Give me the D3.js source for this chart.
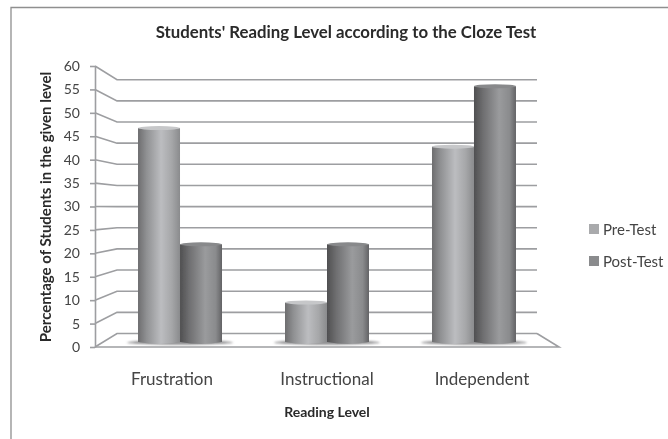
<!DOCTYPE html>
<html>
<head>
<meta charset="utf-8">
<script src="https://cdn.jsdelivr.net/npm/d3@7"></script>
<style>
  html, body { margin: 0; padding: 0; background: #fff; }
  svg { display: block; }
  text { font-family: Lato, "Open Sans", sans-serif; fill: #444; }
</style>
</head>
<body>
<script>
const categories = ['Frustration', 'Instructional', 'Independent'];
const seriesNames = ['Pre-Test', 'Post-Test'];
const preTest = [46, 8.5, 42];
const postTest = [21, 21, 55];
const yTicks = d3.range(0, 61, 5);

const width = 668;
const height = 439;

const svg = d3.select('body').append('svg')
  .attr('width', width)
  .attr('height', height);

const defs = svg.append('defs');
defs.append('filter').attr('id', 'soft')
  .append('feGaussianBlur').attr('stdDeviation', 0.5);
defs.append('filter').attr('id', 'shadow')
  .append('feGaussianBlur').attr('stdDeviation', 1.2);

// cylinder shading
function cylinder(id, stops) {
  const g = defs.append('linearGradient').attr('id', id);
  stops.forEach(s => g.append('stop').attr('offset', s[0]).attr('stop-color', s[1]));
}
cylinder('pre', [[0, '#6d6d6f'], [0.2, '#8f9092'], [0.55, '#bcbdc0'], [0.8, '#a6a7a9'], [1, '#8a8b8d']]);
cylinder('post', [[0, '#4f4f51'], [0.2, '#6c6c6e'], [0.6, '#9a9b9d'], [0.85, '#8a8b8d'], [1, '#636365']]);

const chart = svg.append('g').attr('filter', 'url(#soft)');

// frame of the pasted chart
chart.append('path')
  .attr('d', d3.line()([[11, height + 5], [11, 7.5], [width + 5, 7.5]]))
  .attr('fill', 'none')
  .attr('stroke', '#8f8f8f')
  .attr('stroke-width', 1.3);

// front axis and back wall share the same domain with different ranges
const yFront = d3.scaleLinear().domain([0, 60]).range([347, 66]);
const yBack = d3.scaleLinear().domain([0, 60]).range([333.5, 79.7]);
const yBar = d3.scaleLinear().domain([0, 60]).range([342, 63]);

const frontX = 95;
const backX = 117;
const backRight = 537;
const frontRight = 559;
const gridColor = '#9d9ea1';

const grid = chart.append('g')
  .attr('fill', 'none')
  .attr('stroke', gridColor)
  .attr('stroke-width', 1.6);

grid.selectAll('path.grid')
  .data(yTicks)
  .join('path')
  .attr('class', 'grid')
  .attr('d', d => d3.line()([[frontX, yFront(d)], [backX, yBack(d)], [backRight, yBack(d)]]));

// floor
grid.append('path')
  .attr('d', d3.line()([[frontX, yFront(0)], [frontRight, yFront(0)], [backRight, yBack(0)]]));

// left axis, drawn with d3.axisLeft
const axis = chart.append('g')
  .attr('transform', `translate(${frontX},0)`)
  .call(d3.axisLeft(yFront).tickValues(yTicks).tickSize(5).tickSizeOuter(0).tickPadding(10));
axis.selectAll('.domain, line').attr('stroke', gridColor).attr('stroke-width', 1.6);
axis.selectAll('text')
  .style('font-family', 'Lato, sans-serif')
  .style('font-size', '14px')
  .attr('fill', '#4a4a4a');

// bars
const x0 = d3.scaleBand().domain(categories).range([backX, backRight]).paddingInner(0.4286).paddingOuter(0.143);
const x1 = d3.scaleBand().domain(seriesNames).range([0, x0.bandwidth()]);

const rows = categories.map((c, i) => ({ category: c, values: [preTest[i], postTest[i]] }));

const groups = chart.selectAll('g.cat')
  .data(rows)
  .join('g')
  .attr('class', 'cat')
  .attr('transform', d => `translate(${x0(d.category)},0)`);

// floor shadow under each pair
groups.append('ellipse')
  .attr('cx', x0.bandwidth() / 2)
  .attr('cy', yBar(0) + 0.5)
  .attr('rx', x0.bandwidth() / 2 + 11)
  .attr('ry', 2.2)
  .attr('fill', '#8e8e90')
  .attr('filter', 'url(#shadow)');

const bars = groups.selectAll('g.bar')
  .data(d => d.values.map((v, i) => ({ series: seriesNames[i], value: v })))
  .join('g')
  .attr('class', 'bar');

const capRy = 2;

bars.append('path')
  .attr('fill', d => d.series === 'Pre-Test' ? 'url(#pre)' : 'url(#post)')
  .attr('d', d => {
    const x = x1(d.series);
    const w = x1.bandwidth();
    const p = d3.path();
    p.moveTo(x, yBar(d.value));
    p.lineTo(x, yBar(0));
    p.quadraticCurveTo(x + w / 2, yBar(0) + capRy * 2, x + w, yBar(0));
    p.lineTo(x + w, yBar(d.value));
    p.closePath();
    return p.toString();
  });

bars.append('ellipse')
  .attr('cx', d => x1(d.series) + x1.bandwidth() / 2)
  .attr('cy', d => yBar(d.value))
  .attr('rx', x1.bandwidth() / 2)
  .attr('ry', capRy)
  .attr('fill', d => d.series === 'Pre-Test' ? '#c6c7c9' : '#88898b');

// category labels sit on a wider spacing than the bars
const xLabel = d3.scalePoint().domain(categories).range([172, 482]);
chart.selectAll('text.cat-label')
  .data(categories)
  .join('text')
  .attr('class', 'cat-label')
  .attr('x', d => xLabel(d))
  .attr('y', 385)
  .attr('text-anchor', 'middle')
  .attr('font-size', 17)
  .text(d => d);

// titles
chart.append('text')
  .attr('x', 346)
  .attr('y', 38)
  .attr('text-anchor', 'middle')
  .attr('font-size', 16.8)
  .attr('font-weight', 700)
  .style('fill', '#2a2a2a')
  .text("Students' Reading Level according to the Cloze Test");

chart.append('text')
  .attr('x', 327)
  .attr('y', 417)
  .attr('text-anchor', 'middle')
  .attr('font-size', 14)
  .attr('font-weight', 700)
  .style('fill', '#2a2a2a')
  .text('Reading Level');

chart.append('text')
  .attr('transform', 'translate(51,207) rotate(-90)')
  .attr('text-anchor', 'middle')
  .attr('font-size', 15)
  .attr('font-weight', 700)
  .style('fill', '#2a2a2a')
  .text('Percentage of Students in the given level');

// legend
const legendY = d3.scalePoint().domain(seriesNames).range([229, 261]);
const legend = chart.selectAll('g.legend')
  .data(seriesNames)
  .join('g')
  .attr('class', 'legend')
  .attr('transform', d => `translate(589,${legendY(d)})`);

legend.append('rect')
  .attr('x', 0)
  .attr('y', -5)
  .attr('width', 10)
  .attr('height', 10)
  .attr('fill', (d, i) => i === 0 ? '#a9aaac' : '#8a8b8d');

legend.append('text')
  .attr('x', 14)
  .attr('y', 5.5)
  .attr('font-size', 15)
  .text(d => d);
</script>
</body>
</html>
